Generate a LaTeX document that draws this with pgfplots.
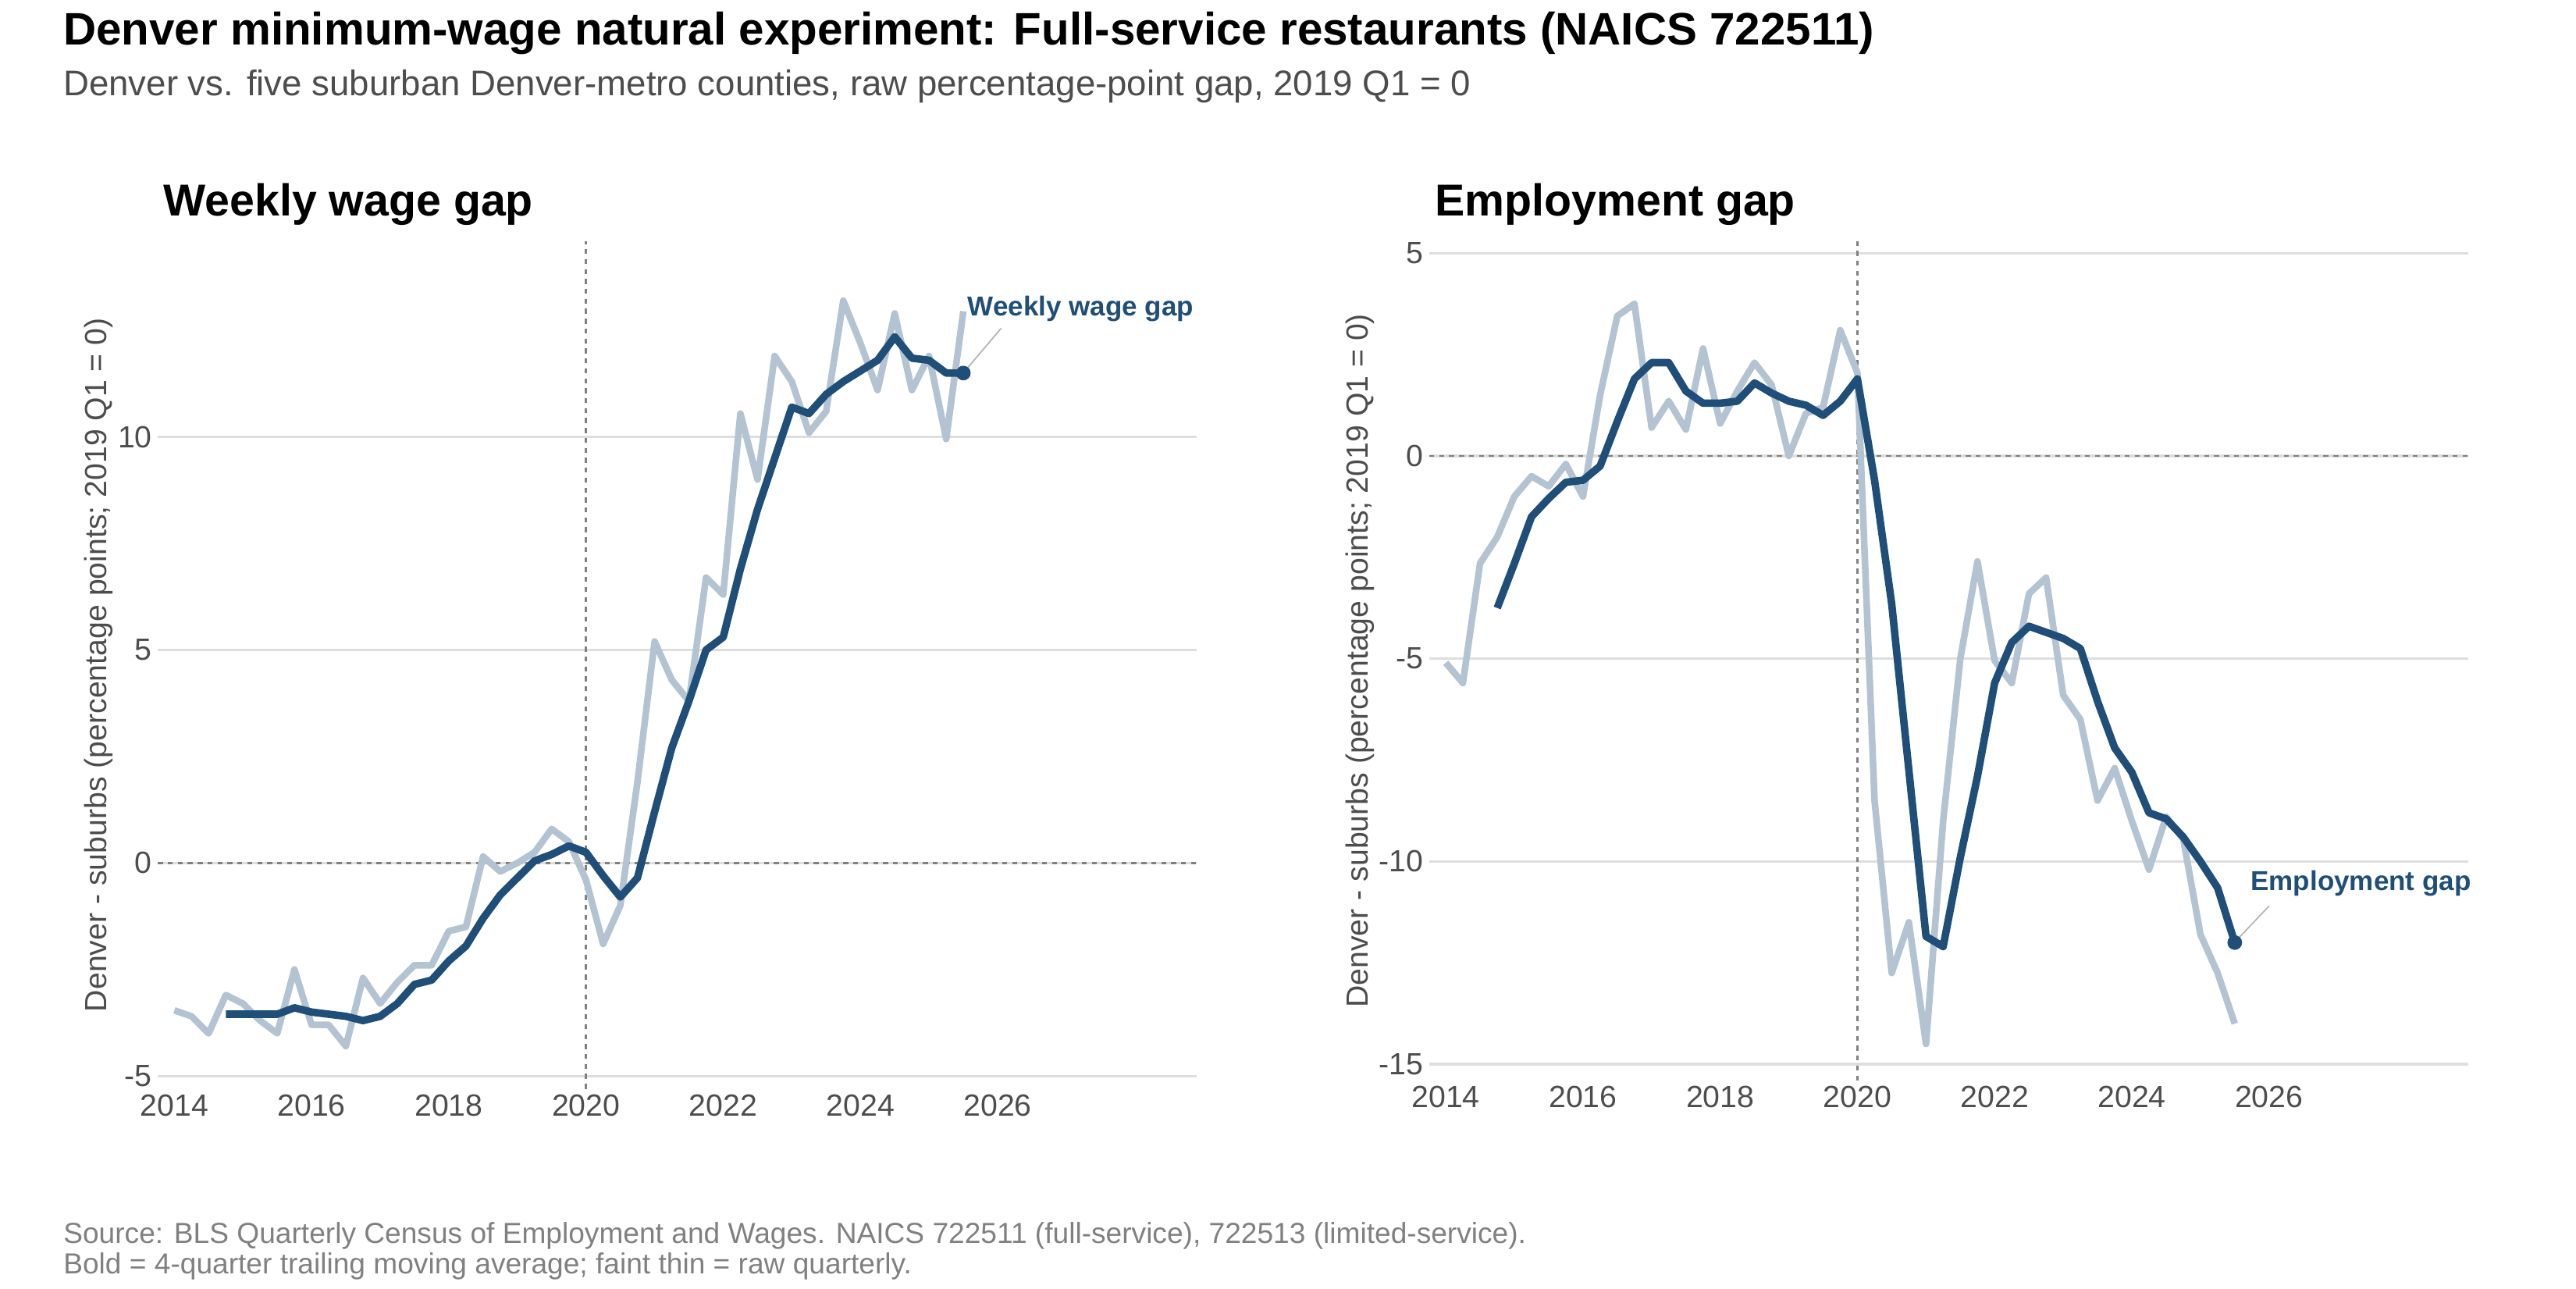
\documentclass[border=0pt]{standalone}
\usepackage{pgfplots}
\pgfplotsset{compat=1.18}
\usepackage{pgfplotstable}
\usepackage{fontspec}
\setmainfont{Liberation Sans}
\definecolor{ma}{HTML}{1F4E79}
\definecolor{raw}{HTML}{B3C3D1}
\definecolor{tk}{HTML}{4D4D4D}
\definecolor{gr}{HTML}{DEDEDE}
\pgfplotstableread{
v
-3.46
-3.6
-4.0
-3.1
-3.3
-3.7
-4.0
-2.5
-3.8
-3.8
-4.3
-2.7
-3.3
-2.8
-2.4
-2.4
-1.6
-1.5
0.15
-0.2
0.0
0.25
0.8
0.5
-0.4
-1.9
-1.0
1.9
5.2
4.3
3.8
6.7
6.3
10.55
9.0
11.9
11.3
10.1
10.6
13.2
12.2
11.1
12.9
11.1
11.9
9.95
12.95
}\wageraw
\pgfplotstableread{
v
-3.55
-3.55
-3.55
-3.55
-3.4
-3.5
-3.55
-3.6
-3.7
-3.6
-3.3
-2.85
-2.75
-2.3
-1.95
-1.3
-0.75
-0.35
0.05
0.2
0.4
0.25
-0.3
-0.8
-0.35
1.2
2.7
3.8
5.0
5.3
6.9
8.3
9.5
10.7
10.55
11.0
11.3
11.55
11.8
12.35
11.85
11.8
11.5
11.5
}\wagema
\pgfplotstableread{
v
-5.1
-5.6
-2.65
-2.0
-1.0
-0.5
-0.75
-0.2
-1.0
1.5
3.45
3.75
0.7
1.35
0.65
2.65
0.8
1.6
2.3
1.75
0.0
1.05
1.2
3.1
2.05
-8.5
-12.75
-11.5
-14.5
-9.0
-5.0
-2.6
-5.05
-5.6
-3.4
-3.0
-5.9
-6.5
-8.5
-7.7
-9.0
-10.2
-8.9
-9.45
-11.8
-12.75
-14.0
}\empraw
\pgfplotstableread{
v
-3.75
-2.65
-1.5
-1.05
-0.65
-0.6
-0.25
0.85
1.9
2.3
2.3
1.6
1.3
1.3
1.35
1.8
1.55
1.35
1.25
1.0
1.35
1.9
-0.6
-3.65
-7.75
-11.85
-12.1
-9.9
-7.9
-5.6
-4.6
-4.2
-4.35
-4.5
-4.75
-6.05
-7.2
-7.8
-8.8
-8.95
-9.4
-10.0
-10.65
-12.0
}\empma
\pgfplotsset{
  panel/.style={
    scale only axis, width=625bp, anchor=south west,
    xmin=2013.76, xmax=2028.9,
    xtick={2014,2016,2018,2020,2022,2024,2026},
    x tick label style={/pgf/number format/1000 sep={}},
    axis line style={draw=none}, tick style={draw=none},
    ymajorgrids, grid style={gr, line width=1.5bp},
    tick label style={font=\fontsize{18.5}{21}\selectfont, text=tk},
    /pgf/number format/assume math mode=true,
    ylabel style={font=\fontsize{18.5}{21}\selectfont, text=tk, yshift=-4bp},
    ylabel={Denver - suburbs (percentage points; 2019 Q1 = 0)},
    title style={font=\bfseries\fontsize{27}{31}\selectfont, anchor=south west, at={(0,1)}, yshift=0bp},
    clip=false,
  },
  rawl/.style={raw, line width=4bp, line join=round},
  mal/.style={ma, line width=4.5bp, line join=round},
}
\begin{document}
\begin{tikzpicture}[x=1bp,y=1bp]
\path[use as bounding box] (0,0) rectangle (1550,775);
\node[anchor=north west, font=\bfseries\fontsize{27.5}{31}\selectfont, inner sep=0pt] at (38,768) {Denver minimum-wage natural experiment: Full-service restaurants (NAICS 722511)};
\node[anchor=north west, font=\fontsize{21.5}{25}\selectfont, text=tk, inner sep=0pt] at (38,733) {Denver vs. five suburban Denver-metro counties, raw percentage-point gap, 2019 Q1 = 0};
\node[anchor=north west, font=\fontsize{17.5}{18.5}\selectfont, text=gray, align=left, inner sep=0pt] at (38,40) {Source: BLS Quarterly Census of Employment and Wages. NAICS 722511 (full-service), 722513 (limited-service).\\Bold = 4-quarter trailing moving average; faint thin = raw quarterly.};
\begin{axis}[panel, at={(95bp,120bp)}, height=510bp, ymin=-5.3, ymax=14.6,
  ytick={-5,0,5,10}, title={Weekly wage gap}]
\draw[gray, dashed, line width=1.2bp] (axis cs:2013.76,0) -- (axis cs:2028.9,0);
\draw[gray, dashed, line width=1.2bp] (axis cs:2020,-5.3) -- (axis cs:2020,14.6);
\addplot[rawl] table[x expr=2014+\coordindex*0.25, y=v] {\wageraw};
\addplot[mal] table[x expr=2014.75+\coordindex*0.25, y=v] {\wagema};
\addplot[ma, only marks, mark=*, mark size=4.2bp] coordinates {(2025.5,11.5)};
\draw[gray!60, line width=0.8bp] (axis cs:2025.55,11.6) -- (axis cs:2026.05,12.55);
\node[anchor=west, text=ma, font=\bfseries\fontsize{16.5}{19}\selectfont, inner sep=0pt] at (axis cs:2025.56,13.0) {Weekly wage gap};
\end{axis}
\begin{axis}[panel, at={(860bp,125bp)}, height=505bp, ymin=-15.4, ymax=5.3,
  ytick={-15,-10,-5,0,5}, title={Employment gap}]
\draw[gray, dashed, line width=1.2bp] (axis cs:2013.76,0) -- (axis cs:2028.9,0);
\draw[gray, dashed, line width=1.2bp] (axis cs:2020,-15.4) -- (axis cs:2020,5.3);
\addplot[rawl] table[x expr=2014+\coordindex*0.25, y=v] {\empraw};
\addplot[mal] table[x expr=2014.75+\coordindex*0.25, y=v] {\empma};
\addplot[ma, only marks, mark=*, mark size=4.2bp] coordinates {(2025.5,-12.0)};
\draw[gray!60, line width=0.8bp] (axis cs:2025.55,-11.9) -- (axis cs:2026.0,-11.1);
\node[anchor=west, text=ma, font=\bfseries\fontsize{16.5}{19}\selectfont, inner sep=0pt] at (axis cs:2025.73,-10.55) {Employment gap};
\end{axis}
\end{tikzpicture}
\end{document}
